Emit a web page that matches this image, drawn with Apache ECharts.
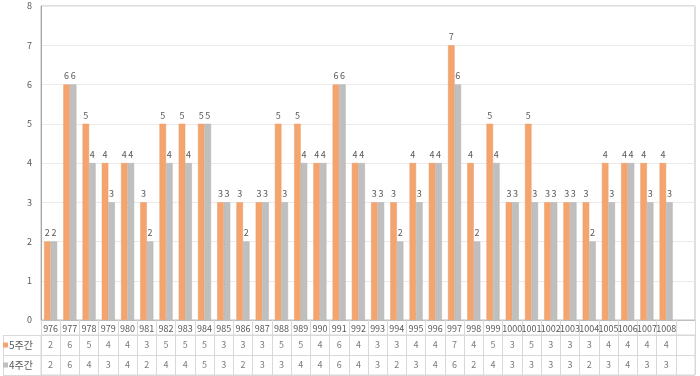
<!DOCTYPE html>
<html><head><meta charset="utf-8">
<script src="https://cdn.jsdelivr.net/npm/echarts@6/dist/echarts.min.js"></script>
<style>html,body{margin:0;padding:0;background:#fff}#c{width:700px;height:376px}</style>
</head><body><div id="c"></div>
<script>
var categories = ['976','977','978','979','980','981','982','983','984','985','986','987','988','989','990','991','992','993','994','995','996','997','998','999','1000','1001','1002','1003','1004','1005','1006','1007','1008',''];
var seriesNames = ['5주간','4주간'];
var values5 = [2,6,5,4,4,3,5,5,5,3,3,3,5,5,4,6,4,3,3,4,4,7,4,5,3,5,3,3,3,4,4,4,4,null];
var values4 = [2,6,4,3,4,2,4,4,5,3,2,3,3,4,4,6,4,3,2,3,4,6,2,4,3,3,3,3,2,3,4,3,3,null];
var yTicks = [0,1,2,3,4,5,6,7,8];

var ORANGE = '#F4A46E', GRAY = '#BFBFBF', TXT = '#595959', FONT = 'Noto Sans CJK KR, sans-serif';
var tableData = [];
values5.forEach(function(v,i){ if(v!==null) tableData.push([i,0,v]); });
values4.forEach(function(v,i){ if(v!==null) tableData.push([i,1,v]); });

var chart = echarts.init(document.getElementById('c'));
chart.setOption({
  animation:false,
  textStyle:{fontFamily:FONT},
  grid:[
    {left:41,right:5,top:6,bottom:56,show:true,borderColor:'#BFBFBF',borderWidth:1},
    {left:41,right:5,top:335,bottom:1,show:true,borderColor:'#D9D9D9',borderWidth:1}
  ],
  xAxis:[
    {type:'category',gridIndex:0,data:categories,
     axisLine:{lineStyle:{color:'#BFBFBF'}},
     axisTick:{show:true,inside:false,length:15,lineStyle:{color:'#D9D9D9'}},
     axisLabel:{color:TXT,fontSize:9,margin:4,interval:0,fontFamily:FONT}},
    {type:'category',gridIndex:1,data:categories,
     axisLine:{show:false},axisTick:{show:false},axisLabel:{show:false},
     splitLine:{show:true,interval:0,lineStyle:{color:'#D9D9D9'}}}
  ],
  yAxis:[
    {type:'value',gridIndex:0,min:0,max:8,interval:1,
     axisLine:{show:true,lineStyle:{color:'#A6A6A6'}},axisTick:{show:false},
     splitLine:{lineStyle:{color:'#EBEBEB'}},
     axisLabel:{color:TXT,fontSize:9,margin:9,fontFamily:FONT,
       formatter:function(v){return yTicks.indexOf(v)>=0?String(v):'';}}},
    {type:'category',gridIndex:1,data:seriesNames,inverse:true,
     axisLine:{show:true,lineStyle:{color:'#D9D9D9'}},
     axisTick:{show:true,length:38,lineStyle:{color:'#D9D9D9'}},
     splitLine:{show:true,lineStyle:{color:'#D9D9D9'}},
     axisLabel:{margin:4,align:'left',padding:[0,0,0,-34],
       formatter:function(v,i){return (i===0?'{o|}':'{g|}')+'{t|'+v+'}';},
       rich:{o:{width:5,height:5,backgroundColor:ORANGE},
             g:{width:5,height:5,backgroundColor:GRAY},
             t:{fontSize:10,color:TXT,fontFamily:FONT,padding:[0,0,0,1]}}}}
  ],
  series:[
    {name:seriesNames[0],type:'bar',data:values5,barGap:'0%',barCategoryGap:'32%',
     itemStyle:{color:ORANGE,borderColor:'#EE9A62',borderWidth:0.5},
     label:{show:true,position:'top',distance:4,color:TXT,fontSize:9,fontFamily:FONT}},
    {name:seriesNames[1],type:'bar',data:values4,
     itemStyle:{color:GRAY,borderColor:'#B3B3B3',borderWidth:0.5},
     label:{show:true,position:'top',distance:4,color:TXT,fontSize:9,fontFamily:FONT}},
    {type:'scatter',xAxisIndex:1,yAxisIndex:1,data:tableData,symbol:'rect',symbolSize:1,
     itemStyle:{color:'rgba(0,0,0,0)'},silent:true,
     label:{show:true,position:'inside',color:TXT,fontSize:9,fontFamily:FONT,
       formatter:function(p){return String(p.value[2]);}}}
  ],
  graphic:[{type:'line',shape:{x1:3.5,y1:335,x2:3.5,y2:375},style:{stroke:'#D9D9D9',lineWidth:1}}]
});
</script></body></html>
